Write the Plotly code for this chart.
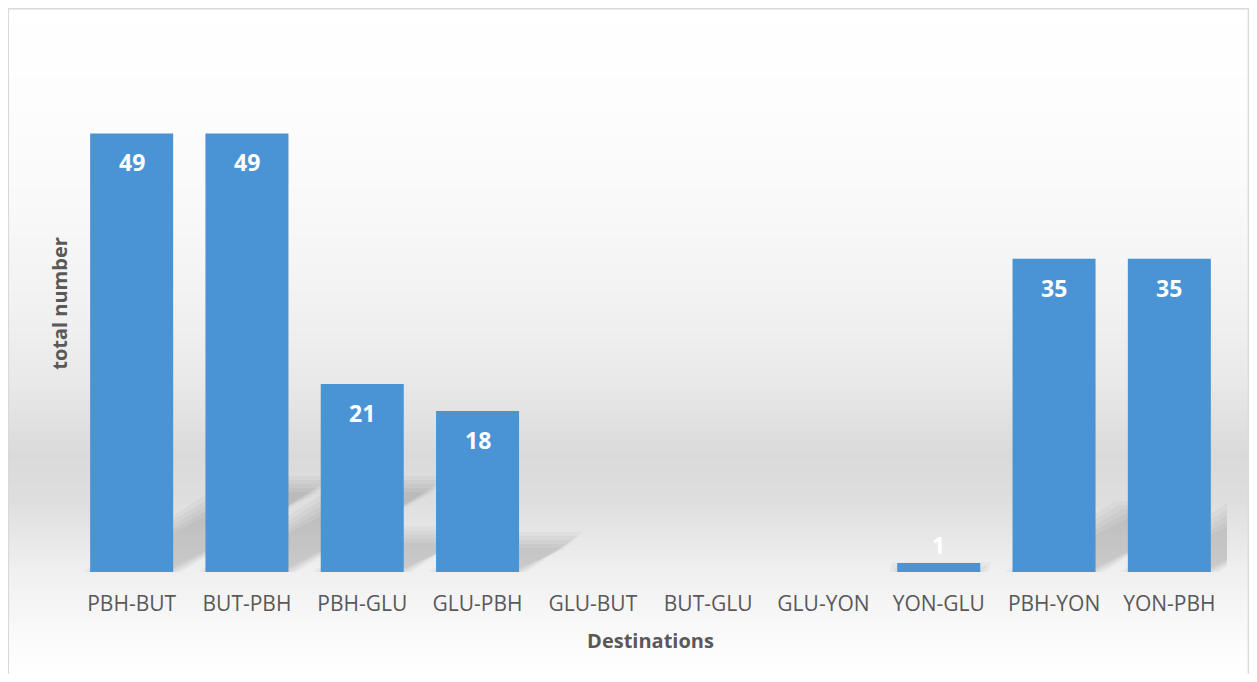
import numpy as np
import plotly.graph_objects as go

# ---- data ----
destinations = ["PBH-BUT", "BUT-PBH", "PBH-GLU", "GLU-PBH", "GLU-BUT",
                "BUT-GLU", "GLU-YON", "YON-GLU", "PBH-YON", "YON-PBH"]
totals = [49, 49, 21, 18, 0, 0, 0, 1, 35, 35]
x_title = "Destinations"
y_title = "total number"

# ---- layout geometry (figure sits inside the page's 8px body margin) ----
OFF = 8
W, H = 1257 - 2 * OFF, 682 - 2 * OFF
M_L, M_R, M_T, M_B = 66.4, 22.4, 27, 102
Y_MAX = 60
plot_w = W - M_L - M_R
plot_h = H - M_T - M_B
px_per_unit = plot_h / Y_MAX
px_per_cat = plot_w / len(destinations)


def px_x(px):
    """figure pixel x -> paper (plot-area) coordinate"""
    return (px - M_L) / plot_w


def px_y(py):
    """figure pixel y (from top) -> paper (plot-area) coordinate"""
    return (H - M_B - py) / plot_h


BAR_COLOR = "#4A94D6"
TEXT_GRAY = "#595959"
FONT = "Open Sans"

fig = go.Figure()
fig.add_trace(go.Bar(
    x=destinations, y=totals,
    marker=dict(color=BAR_COLOR, line=dict(width=0)),
    hoverinfo="x+y",
))

shapes = []

# ---- background gradient (white -> gray floor -> white) ----
stops_px = [0, 100, 200, 300, 380, 455, 500, 540, 572, 610, 650, 682]
stops_px = [p - OFF for p in stops_px]
stops_val = [255, 253, 249, 242, 233, 218, 222, 232, 240, 246, 252, 255]
step = 2
for y0 in range(0, H, step):
    g = int(round(np.interp(y0 + step / 2, stops_px, stops_val)))
    shapes.append(dict(
        type="rect", xref="paper", yref="paper", layer="below",
        x0=px_x(0), x1=px_x(W - 1),
        y0=px_y(y0 + step + 0.5), y1=px_y(y0),
        fillcolor=f"rgb({g},{g},{g})", line=dict(width=0),
    ))

# ---- soft perspective shadows behind bars ----
half = 0.36
for i, v in enumerate(totals):
    if v <= 0:
        continue
    hpx = v * px_per_unit
    dx = 0.35 * hpx / px_per_cat
    dy = 0.2 * v
    for e in (-8, -4, 0, 4, 8):
        ex = e / px_per_cat
        ey = e / px_per_unit
        xl, xr = i - half - ex, i + half + ex
        top = max(dy + ey, 0.2)
        path = (f"M {xl},0 L {xr},0 L {xr + dx},{top} "
                f"L {xl + dx},{top} Z")
        shapes.append(dict(
            type="path", xref="x", yref="y", layer="below", path=path,
            fillcolor="rgba(0,0,0,0.033)", line=dict(width=0),
        ))

# ---- outer border ----
shapes.append(dict(
    type="rect", xref="paper", yref="paper", layer="above",
    x0=px_x(0.75), x1=px_x(W - 1), y0=px_y(H + 10), y1=px_y(0.75),
    fillcolor="rgba(0,0,0,0)", line=dict(color="#d9d9d9", width=1.5),
))

# ---- data labels ----
annotations = []
for cat, v in zip(destinations, totals):
    if v <= 0:
        continue
    inside = v * px_per_unit > 40
    annotations.append(dict(
        x=cat, y=v, xref="x", yref="y", text=str(v), showarrow=False,
        yanchor="middle", yshift=-29 if inside else 18,
        font=dict(family=FONT, size=23, color="white", weight="bold"),
    ))

fig.update_layout(
    width=W, height=H,
    margin=dict(l=M_L, r=M_R, t=M_T, b=M_B, autoexpand=False),
    paper_bgcolor="white",
    plot_bgcolor="rgba(0,0,0,0)",
    bargap=0.28,
    showlegend=False,
    shapes=shapes,
    annotations=annotations,
    font=dict(family=FONT, color=TEXT_GRAY),
    xaxis=dict(
        type="category", range=[-0.5, len(destinations) - 0.5],
        autorange=False,
        showgrid=False, zeroline=False, showline=False,
        ticks="outside", ticklen=13, tickcolor="rgba(0,0,0,0)",
        tickfont=dict(family=FONT, size=21, color=TEXT_GRAY),
        title=dict(text=x_title, standoff=17,
                   font=dict(family=FONT, size=20, color=TEXT_GRAY, weight="bold")),
        automargin=False, fixedrange=True,
    ),
    yaxis=dict(
        range=[0, Y_MAX], autorange=False,
        showgrid=False, zeroline=False, showline=False,
        showticklabels=False, ticks="",
        title=dict(text=y_title, standoff=0,
                   font=dict(family=FONT, size=20, color=TEXT_GRAY, weight="bold")),
        automargin=False, fixedrange=True,
    ),
)

fig.write_html("out.html")
